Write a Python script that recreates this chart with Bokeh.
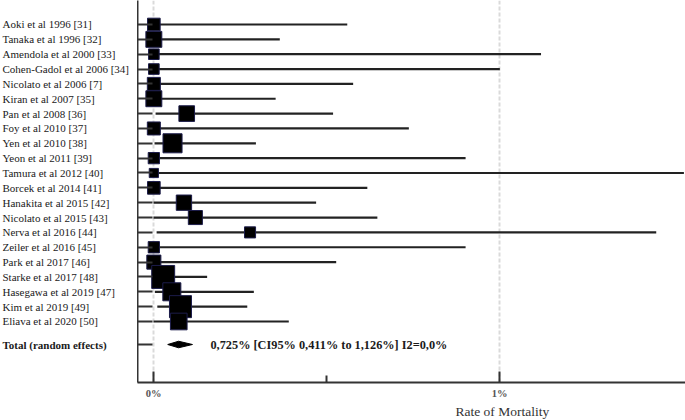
from bokeh.plotting import figure
from bokeh.models import ColumnDataSource, FixedTicker, Range1d, Title
from bokeh.layouts import row
from bokeh.core.properties import value
from bokeh.embed import file_html
from bokeh.resources import INLINE

# ---- data (axis units: tick "1%" = 1) ----
studies = [
    "Aoki et al 1996 [31]", "Tanaka et al 1996 [32]", "Amendola et al 2000 [33]",
    "Cohen-Gadol et al 2006 [34]", "Nicolato et al 2006 [7]", "Kiran et al 2007 [35]",
    "Pan et al 2008 [36]", "Foy et al 2010 [37]", "Yen et al 2010 [38]",
    "Yeon et al 2011 [39]", "Tamura et al 2012 [40]", "Borcek et al 2014 [41]",
    "Hanakita et al 2015 [42]", "Nicolato et al 2015 [43]", "Nerva et al 2016 [44]",
    "Zeiler et al 2016 [45]", "Park et al 2017 [46]", "Starke et al 2017 [48]",
    "Hasegawa et al 2019 [47]", "Kim et al 2019 [49]", "Eliava et al 2020 [50]",
]
estimate = [0.001, 0.001, 0.001, 0.001, 0.001, 0.001, 0.096, 0.001, 0.055, 0.001, 0.001,
            0.001, 0.088, 0.121, 0.279, 0.001, 0.001, 0.028, 0.053, 0.078, 0.073]
lower = [0.0, 0.0, 0.0, 0.0, 0.0, 0.0, 0.006, 0.0, 0.003, 0.0, 0.0,
         0.0, 0.0, 0.0, 0.009, 0.0, 0.0, 0.0, 0.004, 0.011, 0.0]
upper = [0.560, 0.365, 1.120, 1.001, 0.577, 0.353, 0.519, 0.738, 0.296, 0.902, 1.533,
         0.618, 0.470, 0.647, 1.453, 0.902, 0.528, 0.155, 0.290, 0.271, 0.391]
weight = [3.4, 5.4, 2.4, 2.4, 3.6, 5.4, 5.2, 3.6, 7.7, 2.7, 1.8,
          3.4, 5.0, 4.2, 2.6, 2.7, 4.2, 11.2, 6.9, 10.3, 5.9]

total_label = "Total (random effects)"
total_est = 0.0725
total_lo = 0.0411
total_hi = 0.1126
total_text = "0,725% [CI95% 0,411% to 1,126%] I2=0,0%"

x_ticks = [0, 1]
x_minor = [0.5]
x_tick_labels = {0: "0%", 1: "1%"}
x_title = "Rate of Mortality"

# ---- layout helpers ----
n = len(studies)
ypos = list(range(n))
total_y = n + 0.55
sizes = [6.86 * w ** 0.5 for w in weight]
dh = 0.22

FONT = "Liberation Serif"
SERIF = value(FONT)
H = 420
LEFT_W = 137
BOTTOM = 38

src = ColumnDataSource(dict(y=ypos, est=estimate, lo=lower, hi=upper, size=sizes, name=studies))
yr = Range1d(24.108, -1.616)

# ---- left panel with study names ----
lab = figure(width=LEFT_W, height=H, output_backend="svg", toolbar_location=None,
             x_range=Range1d(0, LEFT_W), y_range=yr,
             x_axis_location=None, y_axis_location=None,
             min_border_left=0, min_border_right=0, min_border_top=0, min_border_bottom=BOTTOM)
lab.outline_line_color = None
lab.grid.visible = False
lab.text(x=2, y="y", text="name", source=src, text_font=SERIF, text_font_size="11px",
         text_align="left", text_baseline="middle", text_color="#1a1a1a")
lab.text(x=[2], y=[total_y], text=[total_label], text_font=SERIF, text_font_size="11px",
         text_font_style="bold", text_align="left", text_baseline="middle", text_color="#1a1a1a")

# ---- main forest plot ----
p = figure(width=685 - LEFT_W, height=H, output_backend="svg", toolbar_location=None,
           x_range=Range1d(-16 / 346, 532 / 346), y_range=yr,
           min_border_left=0, min_border_right=0, min_border_top=0, min_border_bottom=BOTTOM)
p.outline_line_color = None

p.ygrid.visible = False
p.xgrid.ticker = FixedTicker(ticks=x_ticks)
p.xgrid.grid_line_color = "#dadada"
p.xgrid.grid_line_width = 2
p.xgrid.grid_line_dash = "4 2"

p.segment(x0="lo", y0="y", x1="hi", y1="y", source=src, line_color="#222222", line_width=2.2)
p.scatter(x="est", y="y", size="size", marker="square", source=src,
          fill_color="black", line_color="#1c1c4a", line_width=1)
p.patch(x=[total_lo, total_est, total_hi, total_est],
        y=[total_y, total_y - dh, total_y, total_y + dh],
        fill_color="black", line_color="black", line_width=1)
p.text(x=[total_hi], y=[total_y], text=[total_text], x_offset=18,
       text_font=SERIF, text_font_style="bold", text_font_size="12.3px",
       text_baseline="middle", text_color="#1a1a1a")

yticks = ypos + [total_y]
p.yaxis.ticker = FixedTicker(ticks=yticks)
p.yaxis.major_label_overrides = {t: "" for t in yticks}
p.yaxis.major_label_standoff = 0
p.yaxis.major_tick_in = 15
p.yaxis.major_tick_out = 0
p.yaxis.minor_tick_line_color = None
p.yaxis.axis_line_width = 2
p.yaxis.axis_line_color = "#333333"
p.yaxis.major_tick_line_color = "#333333"
p.yaxis.major_tick_line_width = 2

p.xaxis.ticker = FixedTicker(ticks=x_ticks, minor_ticks=x_minor)
p.xaxis.major_label_overrides = x_tick_labels
p.xaxis.major_tick_in = 11
p.xaxis.major_tick_out = 0
p.xaxis.minor_tick_in = 7
p.xaxis.minor_tick_out = 0
p.xaxis.axis_line_width = 2
p.xaxis.axis_line_color = "#333333"
p.xaxis.major_tick_line_color = "#333333"
p.xaxis.major_tick_line_width = 2
p.xaxis.minor_tick_line_color = "#333333"
p.xaxis.minor_tick_line_width = 2
p.xaxis.major_label_text_font = FONT
p.xaxis.major_label_text_font_style = "bold"
p.xaxis.major_label_text_font_size = "10.5px"
p.xaxis.major_label_text_color = "#555555"
p.xaxis.major_label_standoff = 5

t = Title(text=x_title, align="left", offset=318, text_font=FONT, text_font_size="13.5px",
          text_font_style="normal", text_color="#333333", standoff=0)
p.add_layout(t, "below")

layout = row(lab, p, spacing=0)
open("out.html", "w").write(file_html(layout, INLINE))
